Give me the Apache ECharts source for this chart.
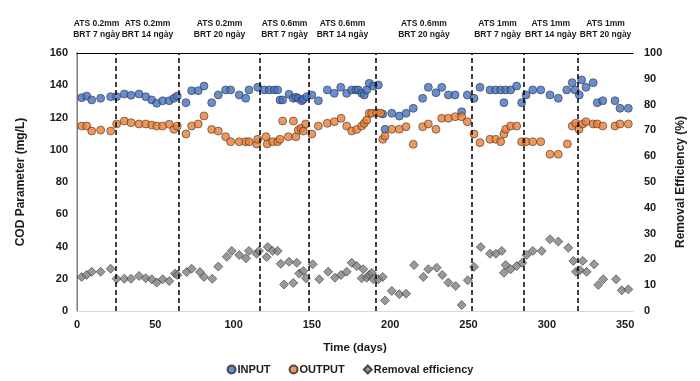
<!DOCTYPE html>
<html><head><meta charset="utf-8">
<script src="https://cdn.jsdelivr.net/npm/echarts/dist/echarts.min.js"></script>
<style>html,body{margin:0;padding:0;background:#fff}#c{width:700px;height:381px}</style>
</head><body><div id="c"></div>
<script>
// ---- data ----
const inputPoints = [
[3.0,132.3],[6.2,133.3],[9.4,130.9],[15.1,131.9],[21.5,132.9],[25.3,132.9],[30.2,134.6],[34.5,133.8],[39.6,134.6],[43.9,132.9],
[47.7,130.9],[50.9,128.8],[54.7,130.4],[58.9,130.4],[61.9,131.9],[64.0,133.3],[69.6,129.2],[73.2,136.6],[77.4,136.6],[81.1,139.5],
[86.0,129.2],[90.2,134],[94.9,137.1],[98.1,137.1],[103.6,134],[107.7,131.9],[109.8,137.1],[115.4,138.7],[119.6,137.1],[122.8,137.1],
[126.0,137.1],[128.1,137.1],[129.6,130.9],[131.3,130.9],[135.4,134.4],[138.1,131.9],[139.8,132.5],[141.3,131.9],[143.5,130.4],[144.5,131.3],
[146.7,132.9],[149.9,134],[154.1,130.4],[159.8,137.1],[164.3,135],[168.4,138.7],[172.2,135],[175.4,137.1],[178.0,137.1],[179.6,137.1],
[181.8,135],[183.4,134],[185.0,137.1],[186.6,141.2],[189.2,139.5],[192.4,140.2],[195.2,122.2],[196.7,112.7],[201.0,122.6],[205.8,120.9],
[210.1,122.6],[214.7,125.7],[220.7,131.9],[224.3,138.7],[229.2,135.4],[232.9,138.7],[237.1,134],[241.4,134],[245.6,123.6],[249.2,134],
[253.5,131.9],[257.3,138.7],[263.7,137.1],[267.3,137.1],[270.5,137.1],[272.6,129.2],[273.7,137.1],[276.9,137.1],[280.7,139.5],[283.9,129.2],
[286.7,134],[291.0,137.1],[296.1,137.1],[302.0,134],[307.3,131.9],[312.7,137.1],[316.2,141.6],[318.0,137.1],[320.7,134],[322.2,143.3],
[325.0,138.7],[329.6,141.6],[332.2,129.2],[335.7,130.4],[343.5,130.4],[346.7,125.7],[352.0,125.7]
];
const outputPoints = [
[3.0,114.7],[6.2,114.7],[9.4,111.6],[15.1,112.2],[21.5,111.6],[25.3,116],[30.2,117.8],[34.5,116.8],[39.6,116],[43.9,116],
[47.7,115.3],[50.9,114.7],[54.7,114.7],[58.9,115.8],[61.9,112.7],[64.0,114.7],[69.6,109.8],[73.2,114.7],[77.4,116],[81.1,121],
[86.0,112.6],[90.2,111.6],[94.9,108.1],[98.1,105],[103.6,105],[107.7,105],[109.8,105],[114.8,103.6],[115.4,106.5],[120.7,108.1],
[121.5,103.6],[124.9,105],[128.1,105],[129.6,106.5],[131.3,117.8],[134.9,108.1],[138.1,117.8],[139.8,108.1],[141.3,112.2],[143.0,113.3],
[144.5,111.6],[146.0,116],[149.9,109.8],[154.1,114.7],[159.8,116.4],[164.3,117.4],[168.6,119.5],[172.2,114.7],[175.4,111.6],[178.6,112.6],
[181.8,114.7],[183.4,116.4],[185.0,118.4],[186.6,122.6],[188.2,122.6],[191.4,123],[193.9,122.6],[195.2,106.5],[196.7,108.5],[201.0,112.7],
[205.8,112.7],[210.1,114.3],[214.7,103.4],[220.7,114.3],[224.3,116],[229.2,112.7],[232.9,119.5],[237.1,119.5],[241.4,120.5],[245.6,120.5],
[249.2,117.4],[253.5,109.8],[257.3,104.4],[263.7,106.5],[267.3,106.5],[270.5,105],[272.6,109.8],[273.7,112.7],[276.9,114.7],[280.7,114.7],
[283.9,105],[286.7,105],[291.0,105],[296.1,105],[302.0,97.2],[307.3,97.2],[313.1,103.6],[316.2,114.7],[318.4,116.4],[320.5,112.7],
[322.9,116],[325.0,117.4],[329.6,116],[332.2,116],[335.7,114.7],[343.5,114.7],[346.7,116],[352.0,116]
];
const removalPoints = [
[3.0,13.2],[6.2,14.0],[9.4,15.2],[15.1,15.2],[21.5,16.4],[25.3,12.5],[30.2,12.5],[34.5,12.5],[39.6,13.6],[43.9,12.7],
[47.7,12.3],[50.9,11.0],[54.7,12.3],[58.9,11.6],[62.6,14.5],[64.0,14.0],[70.0,15.1],[73.2,16.4],[78.5,15.1],[81.1,13.2],
[86.4,12.5],[90.2,17.2],[95.6,21],[98.8,23.3],[103.6,21.7],[107.9,20.4],[109.8,23.3],[114.7,22.2],[116.2,23.3],[121.1,20.9],
[121.8,24.8],[124.9,23.3],[128.1,23.3],[130.1,18.3],[132.2,10.3],[135.4,19.1],[138.1,10.9],[140.3,18.7],[141.9,14.5],[144.5,15.5],
[146.2,12.7],[150.5,18.1],[154.7,12.3],[160.4,15.2],[164.7,12.9],[168.6,14.0],[172.2,15.2],[175.4,18.7],[178.6,17.4],[181.8,12.7],
[182.8,16.2],[185.0,12.9],[186.6,14.0],[188.2,14.8],[189.2,12.3],[192.4,12.3],[195.2,13.2],[196.7,4.1],[201.0,7.8],[205.8,6.5],
[210.1,6.7],[215.2,17.8],[221.1,13.2],[224.3,16.2],[229.7,16.8],[233.2,14.0],[237.1,11.0],[241.8,9.7],[245.6,2.3],[249.5,11.9],
[253.5,17.1],[257.8,24.8],[263.7,22.2],[267.5,22.2],[271.2,23.3],[272.6,14.8],[273.7,17.8],[276.9,16.2],[280.7,17.4],[284.3,18.7],
[287.1,21.7],[291.0,23.3],[296.7,23.3],[302.0,27.8],[307.3,26.9],[313.7,24.5],[316.9,19.4],[318.6,15.2],[321.2,15.8],[322.9,19.4],
[325.4,15.2],[330.1,18.1],[332.8,10.1],[336.0,12.3],[344.2,12.3],[347.8,8.0],[352.0,8.4]
];
const dividerDays = [25, 65, 117, 148, 191, 252, 285, 320];
const phaseLine1 = ['ATS 0.2mm','ATS 0.2mm','ATS 0.2mm','ATS 0.6mm','ATS 0.6mm','ATS 0.6mm','ATS 1mm','ATS 1mm','ATS 1mm'];
const phaseLine2 = ['BRT 7 ngày','BRT 14 ngày','BRT 20 ngày','BRT 7 ngày','BRT 14 ngày','BRT 20 ngày','BRT 7 ngày','BRT 14 ngày','BRT 20 ngày'];
const seriesNames = ['INPUT','OUTPUT','Removal efficiency'];
const xMin = 0, xMax = 355, xStep = 50;

// ---- chart ----
const FONT = 'Liberation Sans, Arial, sans-serif';
const chart = echarts.init(document.getElementById('c'), null, {renderer:'canvas'});
const lbl = {fontFamily: FONT, fontWeight: 'bold', fontSize: 11, color: '#1a1a1a'};
const option = {
  animation: false,
  backgroundColor: '#fff',
  grid: {left: 77, right: 67, top: 53, bottom: 70},
  legend: {
    data: seriesNames, bottom: 1, left: 'center', itemWidth: 8, itemHeight: 8, itemGap: 18,
    textStyle: {fontFamily: FONT, fontWeight: 'bold', fontSize: 11, color: '#1a1a1a', padding:[0,0,0,-3]}
  },
  xAxis: [{
    type: 'value', min: xMin, max: xMax, interval: xStep,
    name: 'Time (days)', nameLocation: 'middle', nameGap: 31,
    nameTextStyle: {fontFamily: FONT, fontWeight: 'bold', fontSize: 11.5, color: '#1a1a1a'},
    axisLine: {show: true, lineStyle: {color: '#d9d9d9', width: 1}},
    axisTick: {show: false}, splitLine: {show: false},
    axisLabel: Object.assign({margin: 8, showMaxLabel: false}, lbl)
  },{
    type: 'value', min: xMin, max: xMax, position: 'top',
    axisLine: {show: true, onZero: false, lineStyle: {color: '#000', width: 1}},
    axisTick: {show: false}, axisLabel: {show: false}, splitLine: {show: false}
  }],
  yAxis: [{
    type: 'value', min: 0, max: 160, interval: 20,
    name: 'COD Parameter (mg/L)', nameLocation: 'middle', nameGap: 50, nameRotate: 90,
    nameTextStyle: {fontFamily: FONT, fontWeight: 'bold', fontSize: 12, color: '#1a1a1a'},
    axisLine: {show: true, lineStyle: {color: '#000', width: 1}},
    axisTick: {show: false}, splitLine: {show: false},
    axisLabel: Object.assign({margin: 9}, lbl)
  },{
    type: 'value', min: 0, max: 100, interval: 10, position: 'right', alignTicks: false,
    name: 'Removal Efficiency (%)', nameLocation: 'middle', nameGap: 42, nameRotate: 90,
    nameTextStyle: {fontFamily: FONT, fontWeight: 'bold', fontSize: 12, color: '#1a1a1a'},
    axisLine: {show: true, lineStyle: {color: '#a6a6a6', width: 1.5}},
    axisTick: {show: false}, splitLine: {show: false},
    axisLabel: Object.assign({margin: 11}, lbl)
  }],
  series: [{
    name: seriesNames[0], type: 'scatter', data: inputPoints, symbol: 'circle', symbolSize: 8,
    itemStyle: {color: '#4472c4', borderColor: '#2a2a2a', borderWidth: 0.7},
    markLine: {
      silent: true, symbol: 'none', label: {show: false},
      lineStyle: {color: '#000', type: [5, 3], width: 1.5},
      data: dividerDays.map(d => ({xAxis: d}))
    }
  },{
    name: seriesNames[1], type: 'scatter', data: outputPoints, symbol: 'circle', symbolSize: 8,
    itemStyle: {color: '#ed7d31', borderColor: '#2a2a2a', borderWidth: 0.7}
  },{
    name: seriesNames[2], type: 'scatter', yAxisIndex: 1, data: removalPoints, symbol: 'diamond', symbolSize: 9,
    itemStyle: {color: '#7f7f7f', borderColor: '#2a2a2a', borderWidth: 0.7}
  }]
};
chart.setOption(option);

// phase captions centred over each segment between dividers
const bounds = [xMin].concat(dividerDays, [xMax]);
const graphics = [];
for (let i = 0; i < phaseLine1.length; i++) {
  const mid = (bounds[i] + bounds[i + 1]) / 2;
  const px = chart.convertToPixel({xAxisIndex: 0}, mid);
  graphics.push({
    type: 'text', x: px, y: 18,
    style: {text: phaseLine1[i] + '\n' + phaseLine2[i], align: 'center', verticalAlign: 'top',
      font: 'bold 8.5px ' + FONT, fill: '#1a1a1a', lineHeight: 11}
  });
}
chart.setOption({graphic: graphics});
</script>
</body></html>
